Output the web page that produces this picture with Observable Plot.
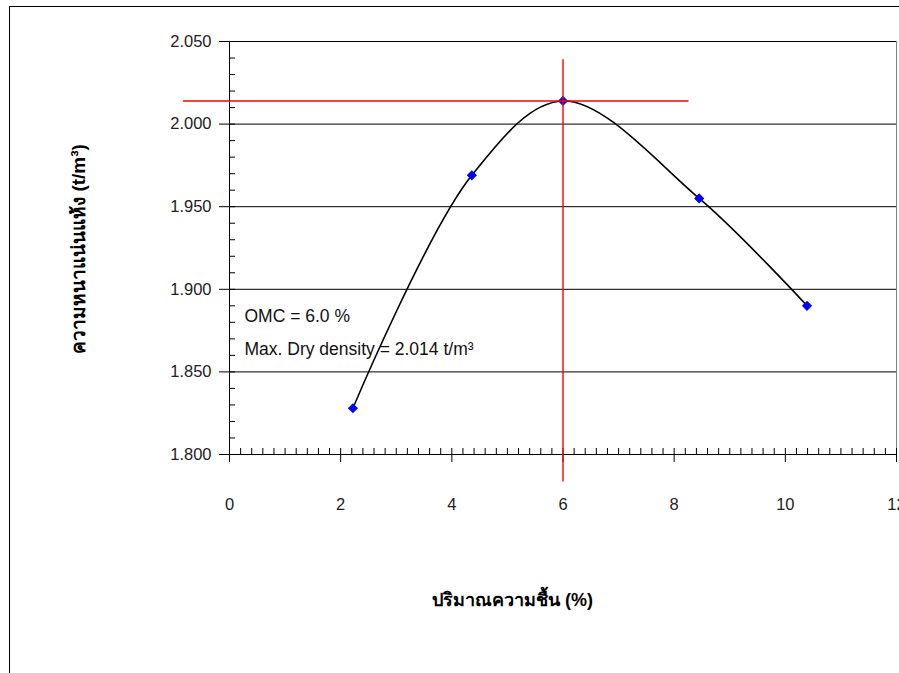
<!DOCTYPE html>
<html><head><meta charset="utf-8">
<script src="https://cdn.jsdelivr.net/npm/d3@7"></script>
<script src="https://cdn.jsdelivr.net/npm/@observablehq/plot@0.6"></script>
<style>
body{margin:0;background:#fff;}
#wrap{position:relative;width:899px;height:673px;overflow:hidden;background:#fff;}
#frame{position:absolute;left:9px;top:6px;width:900px;height:700px;border-left:1px solid #000;border-top:1px solid #000;}
#chart{position:absolute;left:0;top:0;}
</style></head><body><div id="wrap"><div id="frame"></div><div id="chart"></div></div>
<script>
// Data
const moisture = [2.22, 4.36, 6.0, 8.45, 10.39];
const dryDensity = [1.828, 1.969, 2.014, 1.955, 1.890];
const omcLineX = [6.0, 6.0];
const omcLineY = [2.039, 1.784];
const maxLineX = [-0.83, 8.25];
const maxLineY = [2.014, 2.014];
const xTicks = [0, 2, 4, 6, 8, 10, 12];
const yTicks = [1.80, 1.85, 1.90, 1.95, 2.00, 2.05];
const annotationText = ["OMC = 6.0 %", "Max. Dry density = 2.014 t/m³"];
const annotationX = [0.27, 0.27];
const annotationY = [1.8835, 1.8636];
const xLabel = "ปริมาณความชื้น (%)";
const yLabel = "ความหนาแน่นแห้ง (t/m³)";

const pts = moisture.map((x, i) => ({x, y: dryDensity[i]}));
const omc = omcLineX.map((x, i) => ({x, y: omcLineY[i]}));
const maxd = maxLineX.map((x, i) => ({x, y: maxLineY[i]}));
const notes = annotationText.map((t, i) => ({t, x: annotationX[i], y: annotationY[i]}));
const minorY = d3.range(0, 26).map(i => 1.8 + i * 0.01);
const minorX = d3.range(0, 61).map(i => i * 0.2);

const font = "'Liberation Sans', Arial, 'Noto Sans', sans-serif";
const chart = Plot.plot({
  width: 899, height: 673,
  marginLeft: 229, marginRight: 3, marginTop: 41, marginBottom: 219,
  x: {domain: [0, 12]},
  y: {domain: [1.8, 2.05]},
  style: {fontFamily: font, fontSize: "16.5px", color: "#000", background: "transparent"},
  marks: [
    Plot.gridY(yTicks.slice(1), {stroke: "#000", strokeOpacity: 1}),
    Plot.ruleX([12], {stroke: "#808080"}),
    Plot.ruleX([0], {stroke: "#000"}),
    Plot.ruleY([1.8], {stroke: "#000"}),
    Plot.axisY(minorY, {tickSize: -6, text: null, label: null}),
    Plot.axisX(minorX, {tickSize: -6, text: null, label: null}),
    Plot.axisY(yTicks, {tickSize: 10, tickPadding: 8, tickFormat: d3.format(".3f"), label: null, fontSize: 16.5, fill: "#222"}),
    Plot.axisX(xTicks, {tickSize: 8, tickPadding: 36, label: null, fontSize: 16.5, fill: "#222"}),
    Plot.line(pts, {x: "x", y: "y", curve: "catmull-rom", stroke: "#000", strokeWidth: 1.6}),
    Plot.dot(pts, {x: "x", y: "y", symbol: "diamond2", r: 4.6, fill: "#0000ff", stroke: "none"}),
    Plot.line(omc, {x: "x", y: "y", stroke: "#ff0000", strokeWidth: 1.4}),
    Plot.line(maxd, {x: "x", y: "y", stroke: "#ff0000", strokeWidth: 1.4}),
    Plot.text(notes, {x: "x", y: "y", text: "t", textAnchor: "start", fontSize: 17.5, fill: "#111"}),
    Plot.text([xLabel], {text: d => d, frameAnchor: "bottom-left", textAnchor: "middle", dx: 283, dy: 151, fontSize: 18, fontWeight: "bold"}),
    Plot.text([yLabel], {text: d => d, frameAnchor: "left", textAnchor: "middle", lineAnchor: "middle", dx: -151, dy: 1, rotate: -90, fontSize: 19, fontWeight: "bold"})
  ]
});
document.getElementById("chart").appendChild(chart);
</script>
</body></html>
